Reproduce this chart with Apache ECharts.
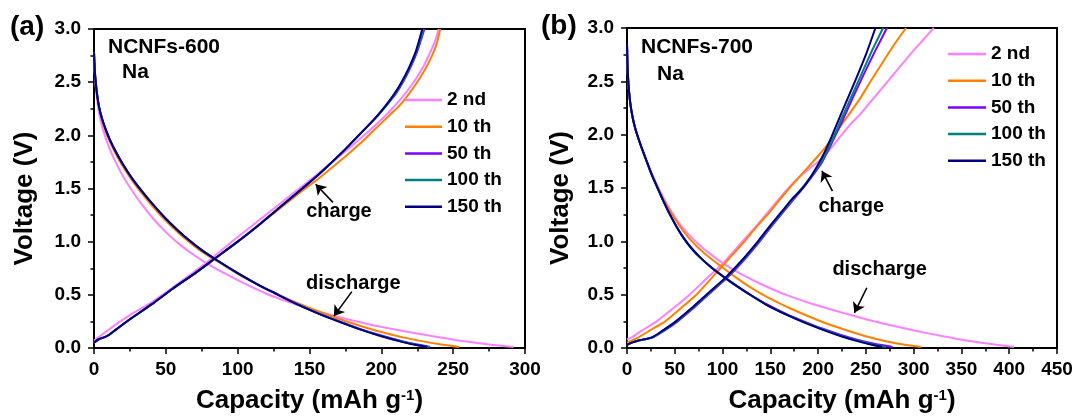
<!DOCTYPE html>
<html><head><meta charset="utf-8">
<script src="https://cdn.jsdelivr.net/npm/echarts@6/dist/echarts.min.js"></script>
<style>html,body{margin:0;padding:0;background:#fff}#c{width:1078px;height:419px}</style>
</head><body><div id="c"></div>
<script>
// ---------------- DATA ----------------
const CYCLES = ['2 nd', '10 th', '50 th', '100 th', '150 th'];

// Panel (a) NCNFs-600 : [capacity (mAh/g), voltage (V)]
const A_DIS_2ND = [[0,2.78],[0.5,2.6],[1.2,2.46],[2.2,2.33],[3.5,2.21],[5.5,2.09],[8,1.98],[11,1.87],[15,1.75],[20,1.62],[26,1.49],[33,1.355],[41,1.22],[50,1.09],[60,0.97],[70,0.87],[80,0.785],[92,0.695],[105,0.605],[120,0.51],[135,0.435],[150,0.37],[165,0.31],[180,0.258],[195,0.212],[215,0.16],[235,0.112],[255,0.068],[275,0.033],[292,0.01]];
const A_DIS_10TH = [[0,2.78],[0.5,2.61],[1.2,2.49],[2.2,2.37],[3.5,2.26],[5.5,2.15],[8,2.04],[11,1.94],[15,1.83],[20,1.71],[26,1.585],[32,1.475],[40,1.345],[49,1.21],[57,1.105],[65,1.01],[74,0.915],[84,0.83],[99,0.705],[114,0.595],[126,0.515],[140,0.43],[155,0.35],[170,0.275],[185,0.21],[200,0.15],[215,0.1],[230,0.06],[243,0.03],[254,0.01]];
const A_DIS_50TH = [[0,2.78],[0.5,2.62],[1.2,2.5],[2.2,2.38],[3.5,2.27],[5.5,2.16],[8,2.06],[11,1.96],[15,1.85],[20,1.73],[26,1.605],[33,1.48],[41,1.35],[50,1.215],[58,1.11],[66,1.015],[75,0.92],[85,0.83],[100,0.705],[115,0.59],[126,0.515],[140,0.422],[155,0.333],[170,0.254],[185,0.18],[200,0.117],[215,0.062],[225,0.032],[234,0.01]];
const A_DIS_100TH = [[0,2.78],[0.5,2.62],[1.2,2.5],[2.2,2.38],[3.5,2.27],[5.5,2.16],[8,2.06],[11,1.96],[15,1.85],[20,1.73],[26,1.605],[33,1.48],[41,1.35],[50,1.215],[58,1.11],[66,1.015],[75,0.92],[85,0.83],[100,0.705],[115,0.59],[126,0.515],[140,0.421],[155,0.331],[170,0.252],[185,0.178],[200,0.113],[215,0.058],[225,0.028],[233,0.01]];
const A_DIS_150TH = [[0,2.78],[0.5,2.62],[1.2,2.5],[2.2,2.38],[3.5,2.27],[5.5,2.16],[8,2.06],[11,1.96],[15,1.85],[20,1.73],[26,1.605],[33,1.48],[41,1.35],[50,1.215],[58,1.11],[66,1.015],[75,0.92],[85,0.83],[100,0.705],[115,0.59],[126,0.515],[140,0.42],[155,0.33],[170,0.25],[185,0.175],[200,0.11],[215,0.055],[225,0.025],[232,0.01]];

const A_CHG_2ND = [[0,0.07],[3,0.1],[8,0.15],[15,0.22],[25,0.31],[40,0.43],[55,0.57],[70,0.72],[78,0.8],[95,0.99],[110,1.15],[125,1.31],[140,1.47],[155,1.63],[165,1.74],[175,1.85],[185,1.965],[195,2.085],[205,2.215],[214,2.35],[222,2.49],[229,2.64],[234,2.78],[237.5,2.89],[240,3.0]];
const A_CHG_10TH = [[0,0.05],[3,0.08],[7,0.1],[10,0.12],[15,0.17],[25,0.27],[40,0.41],[55,0.56],[70,0.7],[84,0.84],[100,1.0],[115,1.16],[130,1.32],[145,1.48],[155,1.58],[165,1.69],[175,1.8],[185,1.92],[195,2.05],[205,2.18],[212,2.27],[217,2.35],[224,2.48],[230,2.61],[235,2.74],[238.5,2.86],[241,3.0]];
const A_CHG_50TH = [[0,0.05],[3,0.08],[7,0.1],[10,0.12],[15,0.17],[25,0.27],[40,0.41],[55,0.56],[70,0.7],[84,0.84],[100,1.0],[115,1.16],[130,1.33],[145,1.5],[155,1.615],[165,1.74],[175,1.87],[185,2.01],[195,2.15],[204,2.29],[210,2.39],[215,2.5],[220,2.63],[225,2.79],[230,3.0]];
const A_CHG_100TH = [[0,0.05],[3,0.08],[7,0.1],[10,0.12],[15,0.17],[25,0.27],[40,0.41],[55,0.56],[70,0.7],[84,0.84],[100,1.0],[115,1.16],[130,1.33],[145,1.5],[155,1.615],[165,1.74],[175,1.87],[185,2.01],[195,2.15],[203.5,2.28],[209.5,2.39],[214.5,2.5],[219.5,2.63],[224.5,2.79],[229.5,3.0]];
const A_CHG_150TH = [[0,0.05],[3,0.08],[7,0.1],[10,0.12],[15,0.17],[25,0.27],[40,0.41],[55,0.56],[70,0.7],[84,0.84],[100,1.0],[115,1.16],[130,1.33],[145,1.5],[155,1.615],[165,1.74],[175,1.87],[185,2.01],[195,2.15],[203,2.28],[209,2.39],[214,2.5],[219,2.63],[224,2.79],[228.5,3.0]];

// Panel (b) NCNFs-700
const B_DIS_2ND = [[0,2.85],[0.5,2.66],[1.2,2.52],[2.2,2.4],[3.5,2.29],[5.5,2.18],[8,2.08],[11,1.99],[15,1.885],[20,1.765],[25,1.655],[31,1.535],[38,1.41],[46,1.285],[55,1.165],[64,1.07],[74,0.98],[88,0.875],[103,0.78],[120,0.69],[140,0.6],[166,0.5],[195,0.41],[218,0.35],[238,0.3],[252,0.265],[275,0.215],[303,0.16],[328,0.115],[346,0.085],[364,0.058],[385,0.032],[405,0.01]];
const B_DIS_10TH = [[0,2.85],[0.5,2.66],[1.2,2.52],[2.2,2.4],[3.5,2.29],[5.5,2.18],[8,2.08],[11,1.99],[15,1.885],[20,1.765],[25,1.65],[31,1.53],[38,1.4],[46,1.27],[55,1.145],[64,1.04],[74,0.945],[86,0.85],[100,0.755],[115,0.655],[128,0.575],[141,0.505],[155,0.44],[170,0.375],[188,0.305],[210,0.225],[232,0.16],[252,0.105],[272,0.06],[292,0.028],[308,0.01]];
const B_DIS_50TH = [[0,2.85],[0.5,2.66],[1.2,2.52],[2.2,2.4],[3.5,2.29],[5.5,2.18],[8,2.08],[11,1.99],[15,1.885],[20,1.765],[25,1.645],[31,1.52],[38,1.38],[45,1.25],[52,1.135],[59,1.035],[67,0.94],[77,0.845],[89,0.75],[103,0.655],[115,0.58],[127,0.51],[145,0.415],[166,0.322],[185,0.25],[205,0.18],[224,0.122],[242,0.075],[260,0.037],[278,0.01]];
const B_DIS_100TH = [[0,2.85],[0.5,2.66],[1.2,2.52],[2.2,2.4],[3.5,2.29],[5.5,2.18],[8,2.08],[11,1.99],[15,1.885],[20,1.765],[25,1.645],[31,1.52],[38,1.38],[45,1.25],[52,1.135],[59,1.035],[67,0.94],[77,0.845],[89,0.75],[103,0.655],[115,0.58],[127,0.51],[145,0.41],[166,0.318],[185,0.245],[205,0.175],[224,0.115],[240,0.072],[256,0.036],[271,0.01]];
const B_DIS_150TH = [[0,2.85],[0.5,2.66],[1.2,2.52],[2.2,2.4],[3.5,2.29],[5.5,2.18],[8,2.08],[11,1.99],[15,1.885],[20,1.765],[25,1.645],[31,1.52],[38,1.38],[45,1.25],[52,1.135],[59,1.035],[67,0.94],[77,0.845],[89,0.75],[103,0.655],[115,0.58],[127,0.51],[145,0.41],[166,0.315],[185,0.24],[205,0.17],[224,0.11],[240,0.067],[255,0.033],[267,0.01]];

const B_CHG_2ND = [[0,0.08],[5,0.1],[15,0.16],[31,0.25],[48,0.37],[65.5,0.5],[83,0.65],[101,0.8],[119,0.98],[135,1.14],[150,1.3],[166,1.47],[180,1.6],[192,1.69],[202,1.76],[213,1.87],[224,1.99],[234,2.1],[244,2.19],[256,2.32],[270,2.47],[284,2.62],[298,2.77],[310,2.89],[321,3.0]];
const B_CHG_10TH = [[0,0.05],[5,0.07],[12,0.1],[25,0.17],[40,0.25],[56,0.37],[72.6,0.5],[85,0.62],[98,0.75],[110,0.87],[123,1.0],[135,1.13],[147,1.25],[158,1.37],[170,1.5],[182,1.62],[192,1.72],[200,1.8],[210,1.91],[221,2.05],[231.5,2.18],[244,2.34],[255,2.5],[267,2.67],[280,2.85],[292,3.0]];
const B_CHG_50TH = [[0,0.03],[5,0.05],[12,0.07],[20,0.085],[27,0.1],[37,0.15],[53,0.25],[69,0.37],[85,0.5],[105,0.66],[122,0.82],[139,1.0],[152,1.15],[164,1.28],[175,1.4],[186,1.52],[195,1.625],[204,1.74],[211,1.86],[218,1.99],[225,2.12],[236,2.34],[248,2.57],[260,2.79],[272,3.0]];
const B_CHG_100TH = [[0,0.03],[5,0.05],[12,0.07],[20,0.085],[27,0.1],[36,0.15],[52,0.25],[68,0.37],[84,0.5],[104,0.66],[121,0.82],[138,1.0],[151,1.15],[163,1.28],[174,1.4],[185,1.52],[194,1.625],[203,1.74],[210,1.86],[217,1.99],[224,2.14],[234,2.34],[245,2.56],[256,2.78],[268,3.0]];
const B_CHG_150TH = [[0,0.03],[5,0.05],[12,0.07],[20,0.085],[26,0.1],[35,0.15],[51,0.25],[67,0.37],[83,0.5],[103,0.66],[120,0.82],[137,1.0],[150,1.15],[162,1.28],[173,1.4],[184,1.5],[193,1.615],[200,1.72],[207,1.84],[214,1.98],[221,2.13],[230,2.32],[240,2.53],[250,2.75],[260,3.0]];

// Annotation arrows [fromCap, fromV, toCap, toV] and labels [text, cap, V]
const ARROWS_A = [[166.3,1.37,154.3,1.54],[179.5,0.53,167,0.30]];
const LABELS_A = [['charge',170.5,1.27],['discharge',180.5,0.59]];
const ARROWS_B = [[215,1.47,204,1.66],[251,0.565,238,0.33]];
const LABELS_B = [['charge',234.7,1.31],['discharge',264.4,0.72]];

// ---------------- STYLE ----------------
const COLORS = ['#FF80FF', '#FF8000', '#8000FF', '#008080', '#000080'];
const FONT = '"Liberation Sans", Arial, Helvetica, sans-serif';

const PANELS = [
  { dis: [A_DIS_2ND, A_DIS_10TH, A_DIS_50TH, A_DIS_100TH, A_DIS_150TH],
    chg: [A_CHG_2ND, A_CHG_10TH, A_CHG_50TH, A_CHG_100TH, A_CHG_150TH],
    xmax: 300, arrows: ARROWS_A, labels: LABELS_A },
  { dis: [B_DIS_2ND, B_DIS_10TH, B_DIS_50TH, B_DIS_100TH, B_DIS_150TH],
    chg: [B_CHG_2ND, B_CHG_10TH, B_CHG_50TH, B_CHG_100TH, B_CHG_150TH],
    xmax: 450, arrows: ARROWS_B, labels: LABELS_B }
];

const chart = echarts.init(document.getElementById('c'), null, {renderer: 'canvas'});

const grids = [
  {left: 94, top: 29, width: 431, height: 322},
  {left: 627, top: 28, width: 430, height: 321}
].map(g => Object.assign(g, {show: true, borderColor: '#000', borderWidth: 2, backgroundColor: 'transparent', containLabel: false}));

const tickFont = {fontFamily: FONT, fontWeight: 'bold', fontSize: 19, color: '#000'};
const titleFont = {fontFamily: FONT, fontWeight: 'bold', fontSize: 26, color: '#000'};

const xAxes = PANELS.map((p, i) => ({
  gridIndex: i, type: 'value', min: 0, max: p.xmax, interval: 50,
  name: 'Capacity (mAh g{sup|-1})', nameLocation: 'middle', nameGap: 40,
  nameTextStyle: Object.assign({}, titleFont, {rich: {sup: {fontFamily: FONT, fontWeight: 'bold', fontSize: 15, color: '#000', verticalAlign: 'top'}}}),
  axisLine: {lineStyle: {color: '#000', width: 2}},
  axisTick: {show: true, inside: false, length: 6, lineStyle: {color: '#000', width: 1.5}},
  minorTick: {show: true, splitNumber: 2, length: 3.5, lineStyle: {color: '#000', width: 1.5}},
  splitLine: {show: false}, minorSplitLine: {show: false},
  axisLabel: Object.assign({}, tickFont, {margin: 12, showMinLabel: true, showMaxLabel: true})
}));
const yAxes = PANELS.map((p, i) => ({
  gridIndex: i, type: 'value', min: 0, max: 3, interval: 0.5,
  name: 'Voltage (V)', nameLocation: 'middle', nameGap: i === 0 ? 56 : 53,
  nameTextStyle: Object.assign({}, titleFont, {padding: [0, 20, 0, 0]}),
  axisLine: {lineStyle: {color: '#000', width: 2}},
  axisTick: {show: true, inside: false, length: 6, lineStyle: {color: '#000', width: 1.5}},
  minorTick: {show: true, splitNumber: 2, length: 3.5, lineStyle: {color: '#000', width: 1.5}},
  splitLine: {show: false}, minorSplitLine: {show: false},
  axisLabel: Object.assign({}, tickFont, {margin: 13, formatter: v => v.toFixed(1), showMinLabel: true, showMaxLabel: true})
}));

const series = [];
PANELS.forEach((p, i) => {
  CYCLES.forEach((name, k) => {
    [p.dis[k], p.chg[k]].forEach(d => {
      series.push({
        type: 'line', name, data: d, xAxisIndex: i, yAxisIndex: i,
        symbol: 'none', showSymbol: false, smooth: 0.2,
        lineStyle: {color: COLORS[k], width: 2}, itemStyle: {color: COLORS[k]},
        animation: false, silent: true, z: 2 + k
      });
    });
  });
  series.push({
    type: 'line', name: 'annot' + i, data: [], xAxisIndex: i, yAxisIndex: i,
    symbol: 'none', animation: false, silent: true, z: 10,
    markLine: {
      silent: true, animation: false, symbol: ['none', 'arrow'], symbolSize: 10,
      lineStyle: {color: '#000', width: 1.6, type: 'solid'}, label: {show: false},
      emphasis: {disabled: true},
      data: p.arrows.map(a => [{coord: [a[0], a[1]]}, {coord: [a[2], a[3]]}])
    }
  });
});

const legendBase = {
  data: CYCLES, orient: 'vertical', icon: 'rect', itemWidth: 37, itemHeight: 2.5, itemGap: 7.7,
  selectedMode: false, textStyle: tickFont, padding: 0
};
const legends = [
  Object.assign({}, legendBase, {left: 405, top: 90.5}),
  Object.assign({}, legendBase, {left: 948, top: 44.5, itemWidth: 38})
];

chart.setOption({
  animation: false,
  backgroundColor: '#fff',
  grid: grids, xAxis: xAxes, yAxis: yAxes, legend: legends, series
});

function txt(id, text, x, y, size, align) {
  return {type: 'text', id, x, y, z: 100, silent: true,
    style: {text, font: 'bold ' + size + 'px ' + FONT, fill: '#000', align: align || 'left', verticalAlign: 'middle'}};
}
const graphics = [
  txt('pa', '(a)', 10, 27.6, 28),
  txt('pb', '(b)', 541, 26.6, 28),
  txt('s1', 'NCNFs-600', 108, 47.5, 21),
  txt('s2', 'Na', 122, 72.5, 21),
  txt('s3', 'NCNFs-700', 641, 47, 21),
  txt('s4', 'Na', 657, 74, 21)
];
PANELS.forEach((p, i) => {
  p.labels.forEach((l, j) => {
    const pt = chart.convertToPixel({xAxisIndex: i, yAxisIndex: i}, [l[1], l[2]]);
    graphics.push(txt('l' + i + j, l[0], pt[0], pt[1] - 1.5, 20, 'center'));
  });
});
chart.setOption({graphic: graphics});
</script></body></html>
